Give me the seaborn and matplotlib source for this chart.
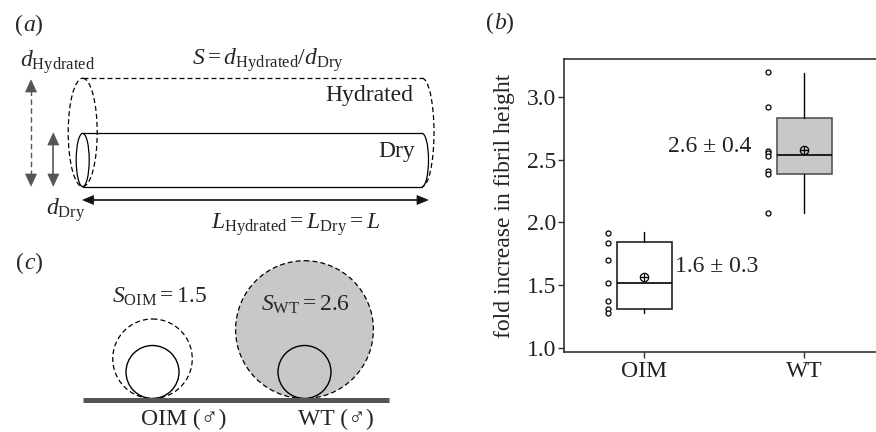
import matplotlib
matplotlib.use("Agg")
import matplotlib.pyplot as plt
import seaborn as sns
import pandas as pd
import numpy as np
from matplotlib.patches import Ellipse, Arc, Circle, Polygon
from matplotlib.transforms import ScaledTranslation

# ---------------- data ----------------
groups = ["OIM", "WT"]
oim_points = [1.92, 1.84, 1.70, 1.52, 1.37, 1.31, 1.28]
wt_points = [3.20, 2.92, 2.575, 2.555, 2.53, 2.41, 2.385, 2.075]
box_whislo = [1.275, 2.073]
box_q1 = [1.307, 2.387]
box_med = [1.517, 2.537]
box_q3 = [1.842, 2.832]
box_whishi = [1.922, 3.192]
box_mean = [1.562, 2.577]
label_mean = [1.6, 2.6]
label_sd = [0.3, 0.4]
yticks = [1.0, 1.5, 2.0, 2.5, 3.0]
s_values = [1.5, 2.6]          # swelling ratios for panel (c)
c_labels = ["OIM (\u2642)", "WT (\u2642)"]

# ---------------- style ----------------
sns.set_style("ticks")
plt.rcParams["font.family"] = ["Liberation Serif", "DejaVu Serif", "DejaVu Sans"]
plt.rcParams["mathtext.fontset"] = "custom"
plt.rcParams["mathtext.rm"] = "Liberation Serif"
plt.rcParams["mathtext.it"] = "Liberation Serif:italic"
plt.rcParams["mathtext.bf"] = "Liberation Serif:bold"

FS = 17
DARK = "#333333"
GREY = "#c8c8c8"

fig = plt.figure(figsize=(8.76, 4.32), dpi=100)

# overlay axes in pixel coordinates for the schematics
ax0 = fig.add_axes([0, 0, 1, 1])
ax0.set_xlim(0, 876)
ax0.set_ylim(432, 0)
ax0.axis("off")

dash = (0, (4.0, 2.4))

# ---------- panel (a) ----------
ax0.text(23, 25, "(", fontsize=FS, ha="right", va="center")
ax0.text(23, 25, r"$a$)", fontsize=FS, ha="left", va="center")
# dry cylinder
cx, cy, w, h, xr = 82.7, 160, 13, 53.3, 422
ax0.add_patch(Ellipse((cx, cy), w, h, fill=False, ec="black", lw=0.9))
ax0.plot([cx, xr], [cy - h / 2, cy - h / 2], color="black", lw=0.9)
ax0.plot([cx, xr], [cy + h / 2, cy + h / 2], color="black", lw=0.9)
ax0.add_patch(Arc((xr, cy), w, h, theta1=-90, theta2=90, ec="black", lw=0.9))
# hydrated cylinder
hy_h = 108.4
hy_cy = cy + h / 2 - hy_h / 2
ax0.add_patch(Ellipse((cx, hy_cy), 29, hy_h, fill=False, ec="black", lw=0.9, ls=dash))
ax0.plot([cx, xr], [hy_cy - hy_h / 2] * 2, color="black", lw=0.9, ls=dash)
ax0.add_patch(Arc((xr, hy_cy), 24, hy_h, theta1=-90, theta2=90, ec="black", lw=0.9, ls=dash))


def double_arrow(x0, y0, x1, y1, color, ls, lw, hl, hw):
    d = np.array([x1 - x0, y1 - y0], float)
    L = np.hypot(*d)
    u = d / L
    n = np.array([-u[1], u[0]])
    p0 = np.array([x0, y0], float)
    p1 = np.array([x1, y1], float)
    ax0.plot([p0[0] + u[0] * hl * 0.8, p1[0] - u[0] * hl * 0.8],
             [p0[1] + u[1] * hl * 0.8, p1[1] - u[1] * hl * 0.8],
             color=color, lw=lw, ls=ls)
    for tip, s in ((p0, 1), (p1, -1)):
        base = tip + s * u * hl
        tri = [tip, base + n * hw / 2, base - n * hw / 2]
        ax0.add_patch(Polygon(tri, closed=True, fc=color, ec=color, lw=0.5))


double_arrow(31, 80, 31, 186, "#555555", dash, 1.0, 12, 11)
double_arrow(53.3, 133, 53.3, 186, "#555555", "-", 1.2, 12, 11)
double_arrow(82.7, 200, 428, 200, "#111111", "-", 1.2, 11, 9)

ax0.text(58, 62, r"$d_{\mathrm{Hydrated}}$", fontsize=FS, ha="center", va="center")
ax0.text(66, 210, r"$d_{\mathrm{Dry}}$", fontsize=FS, ha="center", va="center")
ax0.text(268, 60, r"$S = d_{\mathrm{Hydrated}}/d_{\mathrm{Dry}}$", fontsize=FS,
         ha="center", va="center")
ax0.text(369, 95, "Hydrated", fontsize=FS, ha="center", va="center", color="#222222")
ax0.text(397, 152, "Dry", fontsize=FS, ha="center", va="center", color="#222222")
ax0.text(296, 225, r"$L_{\mathrm{Hydrated}} = L_{\mathrm{Dry}} = L$", fontsize=FS,
         ha="center", va="center")

# ---------- panel (c) ----------
ax0.text(24, 263, "(", fontsize=FS, ha="right", va="center")
ax0.text(24, 263, r"$c$)", fontsize=FS, ha="left", va="center")
r0 = 26.5
ybase = 398.5
centers_x = [152.5, 304.5]
fills = ["none", GREY]
label_xy = [(160, 297), (306, 305)]
for g, s, xc, fc, (lx, ly), cl in zip(groups, s_values, centers_x, fills, label_xy, c_labels):
    R = s * r0
    ax0.add_patch(Circle((xc, ybase - R), R, fc=fc, ec="black", lw=0.9, ls=dash,
                         fill=(fc != "none")))
    ax0.add_patch(Circle((xc, ybase - r0), r0, fill=False, ec="black", lw=1.0))
    ax0.text(lx, ly, r"$S_{\mathrm{%s}} = %s$" % (g, s), fontsize=FS, ha="center", va="center")
    ax0.text(xc + 31, 419, cl, fontsize=FS, ha="center", va="center")
ax0.plot([83, 389], [400.2, 400.2], color="#555555", lw=3.6, solid_capstyle="butt")

# ---------- panel (b) ----------
ax = fig.add_axes([564.3 / 876, 1 - 352.3 / 432, (876 - 564.3) / 876, (352.3 - 59) / 432])
df = pd.DataFrame({
    "group": ["OIM"] * len(oim_points) + ["WT"] * len(wt_points),
    "value": oim_points + wt_points,
})
sns.stripplot(data=df, x="group", y="value", order=groups, jitter=False, ax=ax,
              color="white", edgecolor="black", linewidth=0.9, size=3.6, zorder=3)
# shift the points to the left of each box
for coll in ax.collections:
    coll.set_offset_transform(ax.transData + ScaledTranslation(-0.366, 0, fig.dpi_scale_trans))

stats = []
for i, g in enumerate(groups):
    stats.append(dict(label=g, whislo=box_whislo[i], q1=box_q1[i], med=box_med[i],
                      q3=box_q3[i], whishi=box_whishi[i], fliers=[]))
bp = ax.bxp(stats, positions=[0, 1], widths=0.34, patch_artist=True, showcaps=False,
            manage_ticks=False,
            boxprops=dict(lw=1.2),
            medianprops=dict(color="black", lw=1.2),
            whiskerprops=dict(color="black", lw=1.0))
box_faces = ["white", GREY]
box_edges = ["#222222", "#555555"]
for patch, fc, ec in zip(bp["boxes"], box_faces, box_edges):
    patch.set_facecolor(fc)
    patch.set_edgecolor(ec)
for i in range(len(groups)):
    ax.plot(i, box_mean[i], marker="o", ms=6, mfc="none", mec="black", mew=0.9, zorder=4)
    ax.plot(i, box_mean[i], marker="+", ms=6, mec="black", mew=0.9, zorder=4)

ax.text(0.19, 1.645, f"{label_mean[0]} \u00b1 {label_sd[0]}", fontsize=FS, ha="left",
        va="center", color="#222222")
ax.text(1 - 0.333, 2.61, f"{label_mean[1]} \u00b1 {label_sd[1]}", fontsize=FS, ha="right",
        va="center", color="#222222")

ax.set_xlim(-0.5, 1.448)
ax.set_ylim(0.963, 3.306)
ax.set_yticks(yticks)
ax.set_yticklabels([f"{t:.1f}" for t in yticks])
ax.set_xlabel("")
ax.set_ylabel("fold increase in fibril height", fontsize=FS, color="#222222", labelpad=8)
ax.tick_params(axis="both", labelsize=FS, length=4, width=1.0, color=DARK,
               labelcolor="#222222", pad=2)
for side in ("left", "top", "bottom"):
    ax.spines[side].set_color(DARK)
    ax.spines[side].set_linewidth(1.2)
ax.spines["right"].set_visible(False)

fig.text(494 / 876, 1 - 23 / 432, "(", fontsize=FS, ha="right", va="center")
fig.text(494 / 876, 1 - 23 / 432, r"$b$)", fontsize=FS, ha="left", va="center")

fig.savefig("out.png", dpi=100)
